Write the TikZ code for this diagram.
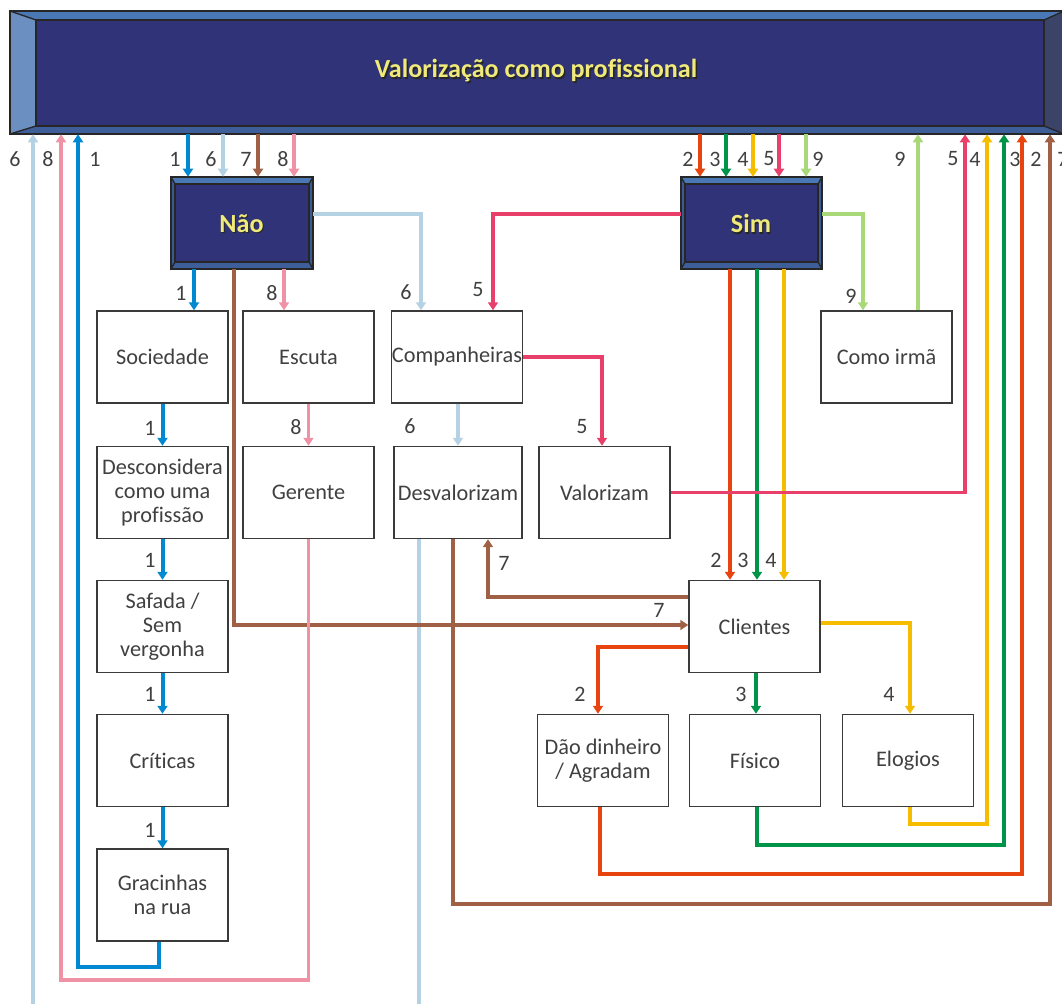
\documentclass[tikz,border=0pt]{standalone}
\usepackage{fontspec}
\setmainfont[Ligatures=CommonOff]{Carlito}
\usetikzlibrary{arrows.meta}

% flow colours, one per numbered path
\definecolor{cA}{RGB}{0,136,209}
\definecolor{cB}{RGB}{232,68,16}
\definecolor{cC}{RGB}{0,148,72}
\definecolor{cD}{RGB}{245,188,0}
\definecolor{cE}{RGB}{232,64,106}
\definecolor{cF}{RGB}{180,210,228}
\definecolor{cG}{RGB}{160,96,70}
\definecolor{cH}{RGB}{240,146,165}
\definecolor{cI}{RGB}{168,216,120}
\definecolor{txt}{RGB}{64,64,64}
\definecolor{edge}{RGB}{58,58,58}
\definecolor{face}{RGB}{48,51,120}
\definecolor{bevtop}{RGB}{74,120,180}
\definecolor{bevbot}{RGB}{62,94,154}
\definecolor{bevside}{RGB}{60,90,146}
\definecolor{bevlight}{RGB}{107,143,193}
\definecolor{bevdark}{RGB}{59,68,104}
\definecolor{titleyel}{RGB}{240,234,122}

% bevelled panel: x1,y1 (top left), x2,y2 (bottom right), left/top/right/bottom depths
\newcommand{\bevelpanel}[8]{%
  \fill[face] (#1+#5,#2+#6) rectangle (#3-#7,#4-#8);
  \fill[bvtop] (#1,#2) -- (#3,#2) -- (#3-#7,#2+#6) -- (#1+#5,#2+#6) -- cycle;
  \fill[bvleft] (#1,#2) -- (#1+#5,#2+#6) -- (#1+#5,#4-#8) -- (#1,#4) -- cycle;
  \fill[bvright] (#3,#2) -- (#3,#4) -- (#3-#7,#4-#8) -- (#3-#7,#2+#6) -- cycle;
  \fill[bvbot] (#1,#4) -- (#3,#4) -- (#3-#7,#4-#8) -- (#1+#5,#4-#8) -- cycle;
  \draw[bvline] (#1,#2) rectangle (#3,#4);
  \draw[bvline] (#1+#5,#2+#6) rectangle (#3-#7,#4-#8);
  \draw[bvline] (#1,#2) -- (#1+#5,#2+#6) (#3,#2) -- (#3-#7,#2+#6)
                (#1,#4) -- (#1+#5,#4-#8) (#3,#4) -- (#3-#7,#4-#8);
}

\tikzset{
  bvtop/.style={fill=bevtop},
  bvbot/.style={fill=bevbot},
  bvleft/.style={fill=bevside},
  bvright/.style={fill=bevside},
  bvline/.style={draw=black!85, line width=1pt},
  box/.style={draw=edge, line width=1.1pt, fill=white, minimum width=98.25pt,
    minimum height=69pt, inner sep=0pt, align=center, text=txt,
    font=\fontsize{16.7}{18}\selectfont},
  panel/.style={minimum width=106.5pt, minimum height=69pt, inner sep=0pt},
  lab/.style={text=txt, inner sep=0pt, font=\fontsize{16.5}{18}\selectfont},
  flow/.style={line width=2.3pt, -{Triangle[width=7.5pt,length=6pt]}},
  line/.style={line width=2.3pt},
  heavy/.style={line width=3pt},
  boldyel/.style={text=titleyel, font=\bfseries\fontsize{19.6}{22}\selectfont, inner sep=0pt},
  boldsh/.style={text=black!85, font=\bfseries\fontsize{19.6}{22}\selectfont, inner sep=0pt},
}

\begin{document}
\begin{tikzpicture}[x=0.75pt, y=-0.75pt]
\useasboundingbox (0,0) rectangle (1062,1004);

% ---------- bevelled panels ----------
\begin{scope}[bvleft/.style={fill=bevlight}, bvright/.style={fill=bevdark}]
  \bevelpanel{10}{11}{1064}{134}{26}{9}{20}{8}
\end{scope}
\bevelpanel{171}{177}{313}{269}{4}{7}{4}{7}
\bevelpanel{681}{177}{822}{269}{4}{7}{4}{7}

\node[minimum width=790.5pt, minimum height=92.25pt, inner sep=0pt] (vp) at (537,72.5) {};
\node[boldsh] (vpsh) at (537.5,72.5) {Valorização como profissional};
\node[boldyel] (vptxt) at (536,71) {Valorização como profissional};

\node[panel] (nao) at (242,223) {};
\node[boldsh] (naosh) at (242.5,225) {Não};
\node[boldyel] (naotxt) at (241.5,223.5) {Não};

\node[panel, minimum width=105.75pt] (sim) at (751.5,223) {};
\node[boldsh] (simsh) at (752,225) {Sim};
\node[boldyel] (simtxt) at (751,223.5) {Sim};

% ---------- boxes ----------
\node[box] (soc) at (162.5,357) {Sociedade};
\node[box] (des) at (162.5,492.5) {Desconsidera\\como uma\\profissão};
\node[box] (saf) at (162.5,626.5) {Safada /\\Sem\\vergonha};
\node[box] (cri) at (162.5,760.5) {Críticas};
\node[box] (gra) at (162.5,895) {Gracinhas\\na rua};
\node[box] (esc) at (308.5,357) {Escuta};
\node[box] (ger) at (308.5,492.5) {Gerente};
\node[box] (com) at (457,357) {Companheiras};
\node[box, minimum width=96pt] (dev) at (458,492.5) {Desvalorizam};
\node[box] (val) at (604.5,492.5) {Valorizam};
\node[box] (irm) at (886.5,357) {Como irmã};
\node[box] (cli) at (754.5,626.5) {Clientes};
\node[box] (dao) at (603,760.5) {Dão dinheiro\\/ Agradam};
\node[box] (fis) at (755,760.5) {Físico};
\node[box] (elo) at (908,760.5) {Elogios};

% ---------- connectors ----------
% path 1
\draw[flow, heavy, cA] (vp.south -| 188,0) -- (nao.north -| 188,0);
\draw[flow, heavy, cA] (nao.south -| 194,0) -- (soc.north -| 194,0);
\draw[flow, heavy, cA] (soc.south) -- (des.north);
\draw[flow, heavy, cA] (des.south) -- (saf.north);
\draw[flow, heavy, cA] (saf.south) -- (cri.north);
\draw[flow, heavy, cA] (cri.south) -- (gra.north);
\draw[flow, cA] (gra.south -| 159,0) -- (159,967) -| (vp.south -| 78,0);
% path 6
\draw[flow, cF] (vp.south -| 223,0) -- (nao.north -| 223,0);
\draw[flow, cF] (nao.east |- 0,214) -| (com.north -| 421,0);
\draw[flow, cF] (com.south -| 458,0) -- (dev.north -| 458,0);
\draw[line, cF] (dev.south -| 419,0) -- (419,1004) coordinate (lbout);
\coordinate (lbin) at (33,1004);
\draw[flow, cF] (lbin) -- (vp.south -| 33,0);
% path 7
\draw[flow, cG] (vp.south -| 258,0) -- (nao.north -| 258,0);
\draw[flow, cG] (nao.south -| 234,0) -- (234,625) -- (cli.west |- 0,625);
\draw[flow, cG] (cli.west |- 0,597) -| (dev.south -| 488,0);
\draw[flow, cG] (dev.south -| 453,0) -- (453,904) -| (vp.south -| 1050,0);
% path 8
\draw[flow, cH] (vp.south -| 294,0) -- (nao.north -| 294,0);
\draw[flow, cH] (nao.south -| 284,0) -- (esc.north -| 284,0);
\draw[flow, cH] (esc.south) -- (ger.north);
\draw[flow, cH] (ger.south) -- (308.5,980) -| (vp.south -| 61,0);
% path 2
\draw[flow, cB] (vp.south -| 700,0) -- (sim.north -| 700,0);
\draw[flow, cB] (sim.south -| 730,0) -- (cli.north -| 730,0);
\draw[flow, heavy, cB] (cli.west |- 0,647) -| (dao.north -| 598,0);
\draw[flow, cB] (dao.south -| 600,0) -- (600,874) -| (vp.south -| 1022,0);
% path 3
\draw[flow, heavy, cC] (vp.south -| 726,0) -- (sim.north -| 726,0);
\draw[flow, cC] (sim.south -| 757,0) -- (cli.north -| 757,0);
\draw[flow, heavy, cC] (cli.south -| 756,0) -- (fis.north -| 756,0);
\draw[flow, cC] (fis.south -| 757,0) -- (757,845) -| (vp.south -| 1004,0);
% path 4
\draw[flow, heavy, cD] (vp.south -| 753,0) -- (sim.north -| 753,0);
\draw[flow, cD] (sim.south -| 784,0) -- (cli.north -| 784,0);
\draw[flow, cD] (cli.east |- 0,623) -| (elo.north -| 910,0);
\draw[flow, heavy, cD] (elo.south -| 910,0) -- (910,824) -| (vp.south -| 987,0);
% path 5
\draw[flow, heavy, cE] (vp.south -| 779,0) -- (sim.north -| 779,0);
\draw[flow, cE] (sim.west |- 0,214) -| (com.north -| 493,0);
\draw[flow, cE] (com.east |- 0,357) -| (val.north -| 602,0);
\draw[flow, cE] (val.east) -| (vp.south -| 965,0);
% path 9
\draw[flow, cI] (vp.south -| 806,0) -- (sim.north -| 806,0);
\draw[flow, heavy, cI] (sim.east |- 0,214) -| (irm.north -| 863,0);
\draw[flow, cI] (irm.north -| 918,0) -- (vp.south -| 918,0);

% ---------- path numbers ----------
\node[lab] (t6a) at (15,159) {6};
\node[lab] (t8a) at (48,159) {8};
\node[lab] (t1a) at (95,159) {1};
\node[lab] (t1b) at (175,159) {1};
\node[lab] (t6b) at (211,159) {6};
\node[lab] (t7b) at (246,159) {7};
\node[lab] (t8b) at (283,159) {8};
\node[lab] (t2b) at (688,159) {2};
\node[lab] (t3b) at (715,159) {3};
\node[lab] (t4b) at (743,159) {4};
\node[lab] (t5b) at (769,159) {5};
\node[lab] (t9b) at (818,159) {9};
\node[lab] (t9c) at (900,159) {9};
\node[lab] (t5c) at (953,159) {5};
\node[lab] (t4c) at (975,159) {4};
\node[lab] (t3c) at (1015,159) {3};
\node[lab] (t2c) at (1036,159) {2};
\node[lab] (t7c) at (1063,159) {7};

\node[lab] (r1a) at (181,293) {1};
\node[lab] (r8a) at (272,293) {8};
\node[lab] (r6a) at (406,292) {6};
\node[lab] (r5a) at (478,290) {5};
\node[lab] (r9a) at (851,296) {9};

\node[lab] (r1b) at (150,428) {1};
\node[lab] (r8b) at (296,427) {8};
\node[lab] (r6b) at (410,426) {6};
\node[lab] (r5b) at (582,427) {5};

\node[lab] (r1c) at (150,560) {1};
\node[lab] (r7c) at (504,563) {7};
\node[lab] (r2c) at (716,560) {2};
\node[lab] (r3c) at (743,560) {3};
\node[lab] (r4c) at (771,560) {4};
\node[lab] (r7d) at (659,610) {7};

\node[lab] (r1e) at (150,694) {1};
\node[lab] (r2e) at (580,694) {2};
\node[lab] (r3e) at (741,694) {3};
\node[lab] (r4e) at (889,694) {4};

\node[lab] (r1f) at (150,830) {1};
\end{tikzpicture}
\end{document}
